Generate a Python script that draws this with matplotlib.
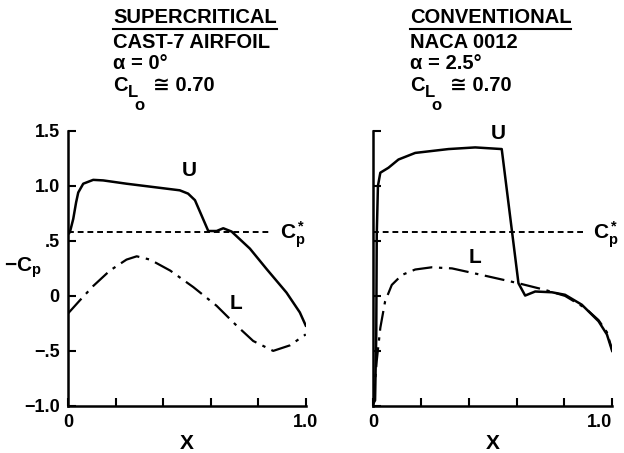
import matplotlib
matplotlib.use("Agg")
import matplotlib.pyplot as plt
from matplotlib.lines import Line2D

plt.rcParams['font.family'] = ['Liberation Sans', 'DejaVu Sans']
plt.rcParams['font.weight'] = 'bold'
plt.rcParams['mathtext.fontset'] = 'custom'
plt.rcParams['mathtext.rm'] = 'Liberation Sans:bold'
plt.rcParams['mathtext.bf'] = 'Liberation Sans:bold'
plt.rcParams['mathtext.it'] = 'Liberation Sans:bold'

# CAST-7 supercritical airfoil, alpha = 0 deg
sc_upper_x = [0.0, 0.008, 0.022, 0.034, 0.043, 0.064, 0.106, 0.148, 0.246,
              0.358, 0.47, 0.505, 0.534, 0.59, 0.625, 0.653, 0.688, 0.765,
              0.835, 0.919, 0.975, 1.0]
sc_upper_cp = [0.56, 0.58, 0.70, 0.85, 0.94, 1.02, 1.055, 1.05, 1.02,
               0.99, 0.96, 0.93, 0.87, 0.59, 0.59, 0.615, 0.585, 0.43,
               0.245, 0.03, -0.15, -0.27]
sc_lower_x = [0.0, 0.05, 0.106, 0.176, 0.246, 0.289, 0.345, 0.43, 0.527,
              0.625, 0.709, 0.779, 0.863, 0.933, 1.0]
sc_lower_cp = [-0.16, -0.04, 0.09, 0.23, 0.33, 0.36, 0.33, 0.23, 0.08,
               -0.09, -0.27, -0.41, -0.50, -0.45, -0.35]

# NACA 0012 conventional airfoil, alpha = 2.5 deg
cv_upper_x = [0.0, 0.008, 0.013, 0.015, 0.02, 0.03, 0.064, 0.106, 0.176,
              0.315, 0.427, 0.538, 0.608, 0.636, 0.678, 0.748, 0.803,
              0.873, 0.943, 0.978, 1.0]
cv_upper_cp = [-0.98, -0.95, -0.35, 0.55, 1.0, 1.12, 1.165, 1.24, 1.30,
               1.335, 1.35, 1.335, 0.115, 0.003, 0.04, 0.033, 0.01,
               -0.08, -0.23, -0.35, -0.50]
cv_lower_x = [0.0, 0.006, 0.015, 0.03, 0.05, 0.078, 0.12, 0.176, 0.245,
              0.33, 0.455, 0.608, 0.72, 0.803, 0.887, 0.943, 0.978, 1.0]
cv_lower_cp = [-0.98, -0.83, -0.59, -0.29, -0.05, 0.10, 0.19, 0.24, 0.26,
               0.25, 0.19, 0.115, 0.054, 0.0, -0.11, -0.22, -0.33, -0.49]

cp_star = 0.58
y_ticks = [-1.0, -0.5, 0.0, 0.5, 1.0, 1.5]
y_tick_labels = ['\u22121.0', '\u2212.5', '0', '.5', '1.0', '1.5']
x_ticks = [0.0, 0.2, 0.4, 0.6, 0.8, 1.0]
x_tick_labels = ['0', '', '', '', '', '1.0']

fig = plt.figure(figsize=(6.24, 4.53), dpi=100)
ax1 = fig.add_axes([0.109, 0.104, 0.381, 0.607])
ax2 = fig.add_axes([0.598, 0.104, 0.383, 0.607])

panels = [
    (ax1, sc_upper_x, sc_upper_cp, sc_lower_x, sc_lower_cp, 0.86),
    (ax2, cv_upper_x, cv_upper_cp, cv_lower_x, cv_lower_cp, 0.89),
]
for ax, ux, ucp, lx, lcp, dash_end in panels:
    ax.plot(ux, ucp, color='black', lw=1.8, solid_joinstyle='round')
    ax.plot(lx, lcp, color='black', lw=1.6, dashes=(9, 3, 1.5, 3))
    ax.plot([0, dash_end], [cp_star, cp_star], color='black', lw=1.4,
            dashes=(3, 2))
    ax.text(dash_end + 0.03, cp_star - 0.02, r'$\mathregular{C_p^*}$',
            fontsize=15, va='center', ha='left')
    ax.set_xlim(0, 1.0)
    ax.set_ylim(-1.0, 1.5)
    for side in ['top', 'right']:
        ax.spines[side].set_visible(False)
    for side in ['left', 'bottom']:
        ax.spines[side].set_linewidth(1.8)
    ax.set_xticks(x_ticks)
    ax.set_xticklabels(x_tick_labels, fontsize=13, fontweight='bold')
    ax.set_yticks(y_ticks)
    ax.tick_params(direction='in', length=6, width=1.5, pad=6)
    ax.set_xlabel('X', fontsize=15, fontweight='bold', labelpad=2)

ax2.get_xticklabels()[-1].set_horizontalalignment('right')
ax2.get_xticklabels()[-1].set_x(1.015)
ax1.set_yticklabels(y_tick_labels, fontsize=13, fontweight='bold')
ax2.set_yticklabels([])
ax1.text(-0.19, 0.26, r'$\mathregular{-C_p}$', fontsize=15, ha='center',
         va='center', transform=ax1.transData, clip_on=False)

ax1.text(0.48, 1.09, 'U', fontsize=15, fontweight='bold')
ax1.text(0.68, -0.12, 'L', fontsize=15, fontweight='bold')
ax2.text(0.49, 1.43, 'U', fontsize=15, fontweight='bold')
ax2.text(0.40, 0.30, 'L', fontsize=15, fontweight='bold')

# title blocks above each panel
title_lines = [
    (0.181, ['SUPERCRITICAL', 'CAST-7 AIRFOIL', '\u03b1 = 0\u00b0']),
    (0.657, ['CONVENTIONAL', 'NACA 0012', '\u03b1 = 2.5\u00b0']),
]
line_y = [0.962, 0.907, 0.860]
heads = []
for x0, lines in title_lines:
    for txt, y in zip(lines, line_y):
        t = fig.text(x0, y, txt, fontsize=14.5, fontweight='bold',
                     ha='left', va='center')
        if txt == lines[0]:
            heads.append(t)
    # C with stacked subscripts L and o
    fig.text(x0, 0.812, 'C', fontsize=14.5, ha='left', va='center')
    fig.text(x0 + 0.024, 0.795, 'L', fontsize=12, ha='left', va='center')
    fig.text(x0 + 0.035, 0.768, 'o', fontsize=12, ha='left', va='center')
    fig.text(x0 + 0.064, 0.812, '\u2245 0.70', fontsize=14.5,
             ha='left', va='center')

fig.canvas.draw()
renderer = fig.canvas.get_renderer()
inv = fig.transFigure.inverted()
for t in heads:
    bb = t.get_window_extent(renderer).transformed(inv)
    fig.add_artist(Line2D([bb.x0, bb.x1], [bb.y0 - 0.006, bb.y0 - 0.006],
                          color='black', lw=1.5, transform=fig.transFigure))

fig.savefig('out.png', dpi=100)
